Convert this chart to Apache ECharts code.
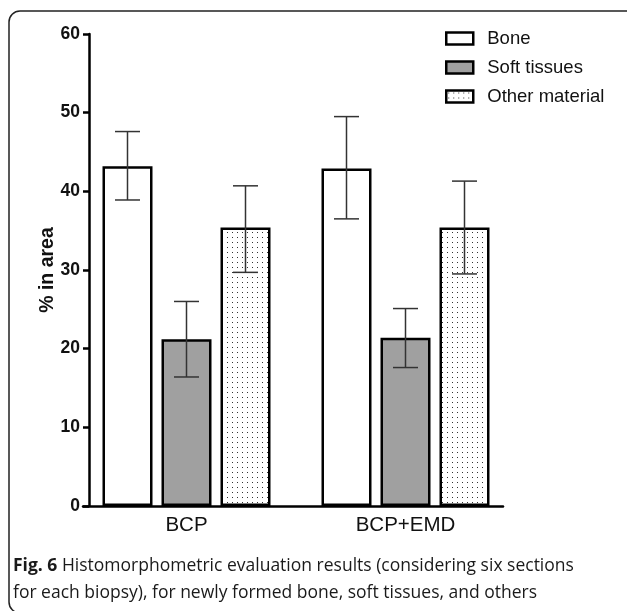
<!DOCTYPE html>
<html>
<head>
<meta charset="utf-8">
<script src="https://cdn.jsdelivr.net/npm/echarts@6/dist/echarts.min.js"></script>
<style>html,body{margin:0;padding:0;background:#fff}#chart{width:627px;height:611px}</style>
</head>
<body>
<div id="chart"></div>
<script>
// ---- data ----
const categories = ['BCP', 'BCP+EMD'];
const seriesNames = ['Bone', 'Soft tissues', 'Other material'];
const boneMean = [43.2, 42.9];
const boneLow = [38.9, 36.5];
const boneHigh = [47.6, 49.5];
const softMean = [21.2, 21.4];
const softLow = [16.4, 17.6];
const softHigh = [26.0, 25.1];
const otherMean = [35.4, 35.4];
const otherLow = [29.7, 29.5];
const otherHigh = [40.7, 41.3];
const yTicks = [0, 10, 20, 30, 40, 50, 60];
const captionLine1 = 'Histomorphometric evaluation results (considering six sections';
const captionLine2 = 'for each biopsy), for newly formed bone, soft tissues, and others';

// ---- styling constants ----
const BAR_W = 50;
const BAR_GAP = 9;
const FONT = '"Liberation Sans", Arial, sans-serif';

// dotted pattern
const pc = document.createElement('canvas');
pc.width = 5; pc.height = 5;
const pctx = pc.getContext('2d');
pctx.fillStyle = '#fff';
pctx.fillRect(0, 0, 5, 5);
pctx.fillStyle = '#333';
pctx.fillRect(2, 2, 1, 1);
const dotPattern = { image: pc, repeat: 'repeat' };

const fills = ['#ffffff', '#a0a0a0', dotPattern];
const means = [boneMean, softMean, otherMean];
const lows = [boneLow, softLow, otherLow];
const highs = [boneHigh, softHigh, otherHigh];

const chart = echarts.init(document.getElementById('chart'), null, { renderer: 'canvas' });

const barSeries = seriesNames.map((name, s) => ({
  name: name,
  type: 'bar',
  xAxisIndex: 0,
  yAxisIndex: 0,
  barWidth: BAR_W,
  barGap: (BAR_GAP / BAR_W * 100) + '%',
  data: means[s],
  itemStyle: { color: fills[s], borderColor: '#000', borderWidth: 2.5 },
  emphasis: { disabled: true },
  z: 2
}));

const errSeries = seriesNames.map((name, s) => ({
  type: 'custom',
  name: name + ' err',
  xAxisIndex: 0,
  yAxisIndex: 0,
  data: categories.map((c, i) => [i, lows[s][i], highs[s][i]]),
  encode: { x: 0, y: [1, 2] },
  z: 5,
  silent: true,
  renderItem: function (params, api) {
    const i = api.value(0);
    const lo = api.coord([i, api.value(1)]);
    const hi = api.coord([i, api.value(2)]);
    const x = lo[0] + (s - 1) * (BAR_W + BAR_GAP);
    const cap = 12.5;
    const st = { stroke: '#333', lineWidth: 1.5 };
    return {
      type: 'group',
      children: [
        { type: 'line', shape: { x1: x, y1: hi[1], x2: x, y2: lo[1] }, style: st },
        { type: 'line', shape: { x1: x - cap, y1: hi[1], x2: x + cap, y2: hi[1] }, style: st },
        { type: 'line', shape: { x1: x - cap, y1: lo[1], x2: x + cap, y2: lo[1] }, style: st }
      ]
    };
  }
}));

const option = {
  animation: false,
  backgroundColor: '#fff',
  title: {
    left: 13,
    top: 553,
    padding: [0, 0, 0, 0],
    text: '{b|Fig. 6} ' + captionLine1 + '\n' + captionLine2,
    textStyle: {
      fontFamily: '"Open Sans", sans-serif',
      fontSize: 17.5,
      fontWeight: 'normal',
      color: '#1a1a1a',
      lineHeight: 27,
      rich: {
        b: { fontFamily: '"Open Sans", sans-serif', fontSize: 17.5, fontWeight: 'bold', color: '#1a1a1a', lineHeight: 27 }
      }
    }
  },
  legend: {
    orient: 'vertical',
    left: 445,
    top: 29,
    padding: 0,
    itemWidth: 27,
    itemHeight: 12,
    itemGap: 10,
    icon: 'rect',
    data: seriesNames,
    selectedMode: false,
    itemStyle: { borderColor: '#000', borderWidth: 2.5 },
    textStyle: { fontFamily: FONT, fontSize: 18.5, color: '#111', padding: [0, 0, 0, 9] }
  },
  grid: [
    { left: 77, right: 112, top: 34, bottom: 105, containLabel: false },
    { left: 83, right: 124, top: 34, bottom: 105, containLabel: false }
  ],
  xAxis: [
    {
      type: 'category',
      gridIndex: 0,
      data: categories,
      boundaryGap: true,
      axisLine: { show: false },
      axisTick: { show: false },
      axisLabel: { fontFamily: FONT, fontSize: 20.5, color: '#111', margin: 9 },
      splitLine: { show: false }
    },
    {
      type: 'value',
      gridIndex: 1,
      min: 0, max: 1,
      axisLine: { show: true, lineStyle: { color: '#000', width: 2.5 } },
      axisTick: { show: false },
      axisLabel: { show: false },
      splitLine: { show: false }
    }
  ],
  yAxis: [
    {
      type: 'value',
      gridIndex: 0,
      min: yTicks[0], max: yTicks[yTicks.length - 1], interval: yTicks[1] - yTicks[0],
      show: false
    },
    {
      type: 'value',
      gridIndex: 1,
      offset: -6,
      min: yTicks[0], max: yTicks[yTicks.length - 1], interval: yTicks[1] - yTicks[0],
      name: '% in area',
      nameLocation: 'middle',
      nameGap: 31,
      nameMoveOverlap: false,
      nameRotate: 90,
      nameTextStyle: { fontFamily: FONT, fontSize: 19.5, fontWeight: 'bold', color: '#111' },
      axisLine: { show: true, lineStyle: { color: '#000', width: 2.5 } },
      axisTick: { show: true, length: 6, lineStyle: { color: '#000', width: 2.5 } },
      axisLabel: { fontFamily: FONT, fontSize: 17.5, fontWeight: 'bold', color: '#111', margin: 9 },
      splitLine: { show: false }
    }
  ],
  graphic: [
    {
      type: 'rect',
      silent: true,
      shape: { x: 9, y: 11, width: 700, height: 602, r: 11 },
      style: { fill: 'none', stroke: '#222', lineWidth: 1.5 },
      z: -1
    }
  ],
  series: barSeries.concat(errSeries)
};

chart.setOption(option);
</script>
</body>
</html>
